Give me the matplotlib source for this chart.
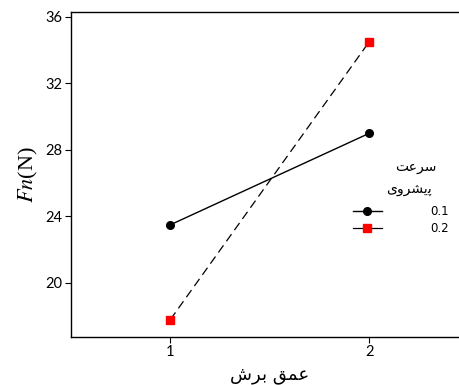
import matplotlib
matplotlib.use("Agg")
import matplotlib.pyplot as plt
from matplotlib.lines import Line2D

# data
depth = [1, 2]
feed_01 = [23.5, 29.0]
feed_02 = [17.8, 34.5]
series_labels = ["0.1", "0.2"]
yticks = [20, 24, 28, 32, 36]

# Persian text in presentation forms, visual order
xlabel_fa = "\uFEB5\uFEAE\uFE91 \uFED6\uFEE4\uFECB"      # عمق برش
title1_fa = "\uFE96\uFECB\uFEAE\uFEB3"                    # سرعت
title2_fa = "\uFBFC\uFEED\uFEAE\uFEB8\uFBFE\uFB58"        # پیشروی

plt.rcParams['font.family'] = ['DejaVu Sans']
plt.rcParams['mathtext.fontset'] = 'stix'

fig = plt.figure(figsize=(4.6, 3.85), dpi=100)
ax = fig.add_axes([71 / 460, 48 / 385, 397.5 / 460, 325 / 385])

l1, = ax.plot(depth, feed_01, color='black', lw=1.0, marker='o', ms=5.5)
l2, = ax.plot(depth, feed_02, color='black', lw=0.9, ls=(0, (7, 4)),
              marker='s', ms=5.5, mfc='red', mec='red')

ax.set_xlim(0.5, 2.5)
ax.set_ylim(16.75, 36.3)
ax.set_xticks(depth)
ax.set_yticks(yticks)
for lab in ax.get_xticklabels() + ax.get_yticklabels():
    lab.set_family('Lato')
    lab.set_fontsize(10.5)
ax.tick_params(axis='both', length=4, width=0.8, pad=2)
for s in ax.spines.values():
    s.set_linewidth(1.0)

ax.set_ylabel(r'$Fn$(N)', family='Liberation Serif', fontsize=16, labelpad=4)
ax.set_xlabel(xlabel_fa, fontsize=13, labelpad=5)

# legend handles drawn solid, as in the original
h1 = Line2D([], [], color='black', lw=1.0, marker='o', ms=5.5)
h2 = Line2D([], [], color='black', lw=0.9, marker='s', ms=5.5, mfc='red', mec='red')

fig.text(437 / 460, 1 - 167 / 385, title1_fa, ha='right', va='center', fontsize=10)
fig.text(432 / 460, 1 - 189 / 385, title2_fa, ha='right', va='center', fontsize=10)
ax.legend([h1, h2], series_labels, frameon=False, fontsize=8.5,
          loc='center left', bbox_to_anchor=(348 / 460, 1 - 220 / 385),
          bbox_transform=fig.transFigure, handlelength=2.5,
          handletextpad=4.1, labelspacing=0.35, borderaxespad=0)

fig.savefig("out.png", dpi=100)
